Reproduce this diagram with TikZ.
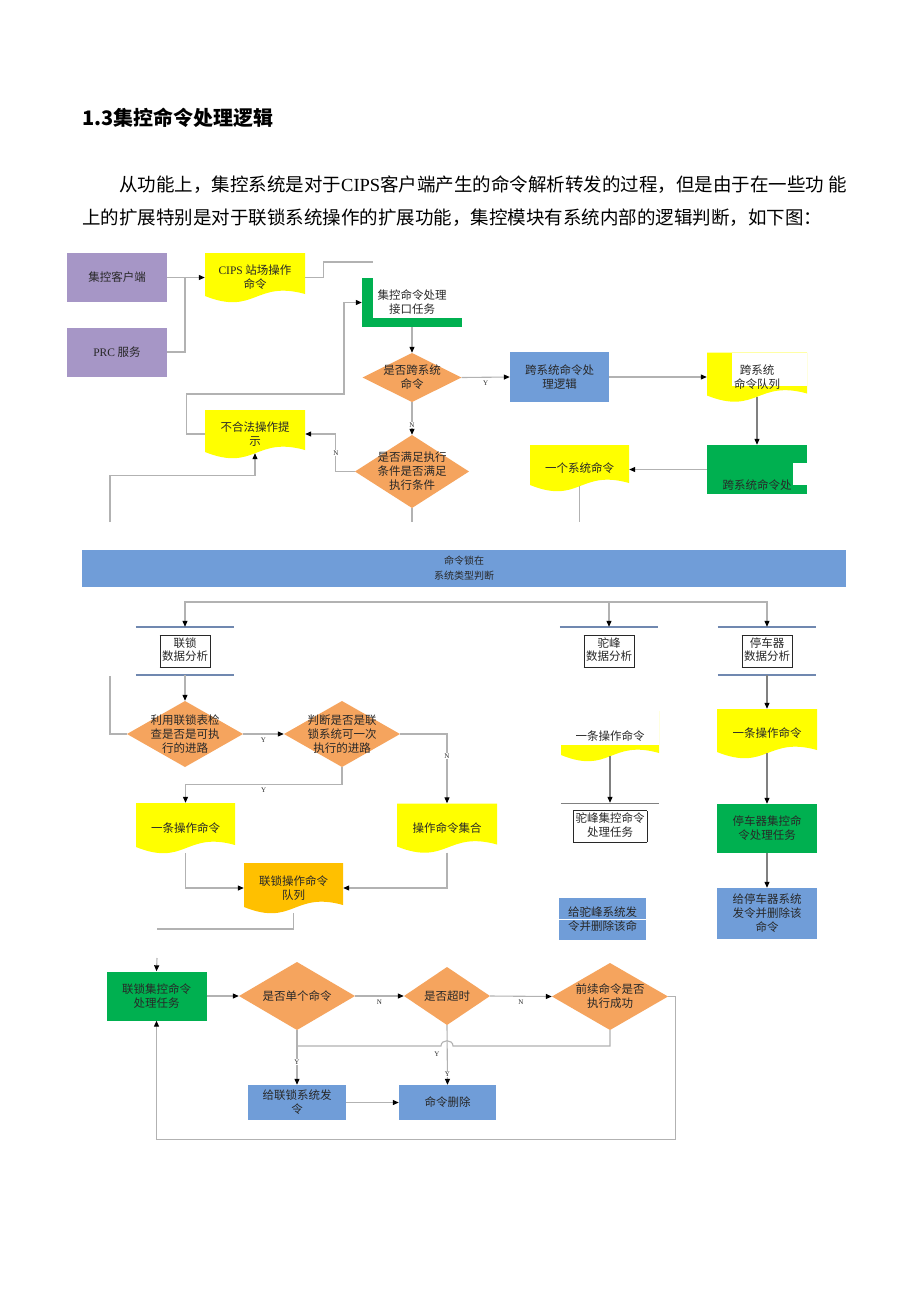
\documentclass[tikz,border=0pt]{standalone}
\usepackage{fontspec}
\setmainfont{Noto Sans CJK SC}
\newfontfamily\latin{Liberation Serif}
\usetikzlibrary{arrows.meta}
\usetikzlibrary{calc}

\definecolor{purplebox}{RGB}{166,150,198}
\definecolor{docyellow}{RGB}{255,255,0}
\definecolor{diaorange}{RGB}{245,164,94}
\definecolor{procblue}{RGB}{112,157,216}
\definecolor{procgreen}{RGB}{0,176,80}
\definecolor{queuegold}{RGB}{255,192,0}
\definecolor{linegray}{RGB}{178,178,178}
\definecolor{bargray}{RGB}{112,136,176}
\definecolor{txt}{RGB}{40,40,40}

\newcommand\dgfont{\fontsize{11.5}{14}\selectfont}
\newcommand\framedtext[1]{{\setlength\fboxsep{2pt}\setlength\fboxrule{0.5pt}%
  \renewcommand\arraystretch{0.95}\fbox{\begin{tabular}{@{}c@{}}#1\end{tabular}}}}

\tikzset{
  basebox/.style={minimum width=100pt, minimum height=49pt, inner sep=1pt,
    align=center, font=\dgfont, text=txt},
  proc/.style={basebox, fill=#1},
  doc/.style={basebox, path picture={
      \fill [#1] (path picture bounding box.north west) -- (path picture bounding box.north east)
        -- ($(path picture bounding box.south east)+(0pt,8pt)$)
        .. controls ($(path picture bounding box.south)+(0pt,22pt)$) and ($(path picture bounding box.south)+(0pt,-14pt)$)
        .. ($(path picture bounding box.south west)+(0pt,6pt)$) -- cycle;}},
  maskdoc/.style 2 args={basebox, path picture={
      \fill [docyellow] (path picture bounding box.north west) -- (path picture bounding box.north east)
        -- ($(path picture bounding box.south east)+(0pt,8pt)$)
        .. controls ($(path picture bounding box.south)+(0pt,22pt)$) and ($(path picture bounding box.south)+(0pt,-14pt)$)
        .. ($(path picture bounding box.south west)+(0pt,6pt)$) -- cycle;
      \fill [white] ($(path picture bounding box.north west)+(#1,0pt)$) rectangle ($(path picture bounding box.south east)+(0pt,#2)$);}},
  lbox/.style={basebox, path picture={
      \fill [procgreen] (path picture bounding box.north west) rectangle ($(path picture bounding box.south west)+(11pt,0pt)$);
      \fill [procgreen] ($(path picture bounding box.south west)+(0pt,9pt)$) rectangle (path picture bounding box.south east);}},
  notch/.style={basebox, path picture={
      \fill [procgreen] (path picture bounding box.north west) rectangle (path picture bounding box.south east);
      \fill [white] ($(path picture bounding box.north east)+(-14pt,-18pt)$) rectangle ($(path picture bounding box.south east)+(0pt,9pt)$);}},
  dia/.style={minimum width=116pt, minimum height=66pt, inner sep=0pt, align=center,
    font=\dgfont, text=txt, path picture={
      \fill [diaorange] (path picture bounding box.north) -- (path picture bounding box.east)
        -- (path picture bounding box.south) -- (path picture bounding box.west) -- cycle;}},
  datanode/.style={minimum width=98pt, minimum height=48pt, inner sep=0pt, font=\dgfont, text=txt},
  dbar/.style={draw=bargray, line width=2.2pt},
  conn/.style={draw=linegray, line width=1.1pt},
  yn/.style={font=\latin\fontsize{7}{8}\selectfont, text=txt, inner sep=0.5pt}
}

\begin{document}
\begin{tikzpicture}[x=1pt, y=-1pt, >={Triangle[length=6pt, width=5pt, color=black]}]
      \fill [white] (0, 0) rectangle (920, 1302);
      \useasboundingbox (0, 0) rectangle (920, 1302);

      % heading and text
      \node [anchor=west, inner sep=0pt, font=\fontsize{20}{24}\selectfont\bfseries] (title) at (82, 118) {1.3集控命令处理逻辑};
      \node [anchor=west, inner sep=0pt, font=\fontsize{18.5}{22}\selectfont] (para1) at (119, 185)
        {从功能上，集控系统是对于{\latin CIPS}客户端产生的命令解析转发的过程，但是由于在一些功\ 能};
      \node [anchor=west, inner sep=0pt, font=\fontsize{18.5}{22}\selectfont] (para2) at (82, 218)
        {上的扩展特别是对于联锁系统操作的扩展功能，集控模块有系统内部的逻辑判断，如下图：};

      % upper part
      \node [proc=purplebox] (client) at (117, 277.5) {集控客户端};
      \node [proc=purplebox] (prc) at (117, 352) {{\latin PRC} 服务};
      \node [doc=docyellow] (cips) at (255, 277.5) {{\latin CIPS} 站场操作\\命令};
      \node [lbox] (iface) at (412, 302.5) {集控命令处理\\接口任务};
      \node [dia, minimum width=99pt, minimum height=49pt] (cross) at (412, 377.5) {是否跨系统\\命令};
      \node [proc=procblue, minimum width=99pt, minimum height=50pt] (xlogic) at (559.5, 377) {跨系统命令处\\理逻辑};
      \node [maskdoc={25pt}{16pt}] (xqueue) at (757, 377) {跨系统\\命令队列};
      \node [notch, text height=40pt] (xproc) at (757, 469.5) {跨系统命令处};
      \node [doc=docyellow, minimum width=99pt, minimum height=46pt] (onesys) at (579.5, 468) {一个系统命令};
      \node [dia, minimum width=114pt, minimum height=73pt] (cond) at (412, 471.5) {是否满足执行\\条件是否满足\\执行条件};
      \node [doc=docyellow, minimum height=48pt] (illegal) at (255, 434) {不合法操作提\\示};

      \coordinate (join) at (185, 277.5);
      \coordinate (cipsend) at (373, 262);
      \coordinate (bend) at (344, 394);
      \coordinate (illend) at (110, 522);
      \coordinate (condend) at (412, 522);
      \coordinate (onesysend) at (579.5, 522);

      \draw [conn, ->] (client.east) -- (cips.west);
      \draw [conn] (prc.east) -| (join);
      \draw [conn] (cips.east) -- ++(18, 0) |- (cipsend);
      \draw [conn, ->] (illegal.west) -- ++(-18, 0) |- (bend) |- (iface.west);
      \draw [conn, ->] (iface.south) -- (cross.north);
      \draw [conn, ->] (cross.east) -- (xlogic.west) node [yn, midway, below=3pt] {Y};
      \draw [conn, ->] (xlogic.east) -- (xqueue.west);
      \draw [conn, ->] (cross.south) -- (cond.north) node [yn, pos=0.7, fill=white] {N};
      \draw [conn, ->] (cond.west) -- ++(-19, 0) |- (illegal.east) node [yn, pos=0.25, fill=white] {N};
      \draw [conn, ->] (illend) |- ([yshift=-17pt]illegal.south) -- ([yshift=5pt]illegal.south);
      \draw [conn] (cond.south) -- (condend);
      \draw [conn, ->, draw=gray] ([yshift=5pt]xqueue.south) -- (xproc.north);
      \draw [conn, ->] (xproc.west) -- (xproc.west -| onesys.east);
      \draw [conn] ([yshift=5pt]onesys.south) -- (onesysend);

      % system type
      \node [proc=procblue, minimum width=764pt, minimum height=37pt, font=\fontsize{10}{15}\selectfont] (typejudge) at (464, 568.5) {命令锁在\\系统类型判断};
      \coordinate (fork) at (411, 602);
      \node [datanode] (ilk) at (185, 651) {\framedtext{联锁\\数据分析}};
      \node [datanode] (hmp) at (609, 651) {\framedtext{驼峰\\数据分析}};
      \node [datanode] (stp) at (767, 651) {\framedtext{停车器\\数据分析}};
      \draw [dbar] (ilk.north west) -- (ilk.north east);
      \draw [dbar] (ilk.south west) -- (ilk.south east);
      \draw [dbar] (hmp.north west) -- (hmp.north east);
      \draw [dbar] (stp.north west) -- (stp.north east);
      \draw [dbar] (stp.south west) -- (stp.south east);
      \draw [conn, ->] (fork) -| (ilk.north);
      \draw [conn, ->] (fork) -| (hmp.north);
      \draw [conn, ->] (fork) -| (stp.north);

      % interlocking
      \node [dia] (ilkchk) at (185, 734) {利用联锁表检\\查是否是可执\\行的进路};
      \node [dia] (once) at (342, 734) {判断是否是联\\锁系统可一次\\执行的进路};
      \node [doc=docyellow, minimum width=99pt, minimum height=50pt] (single) at (185.5, 828) {一条操作命令};
      \node [doc=docyellow] (opset) at (447, 828) {操作命令集合};
      \node [doc=queuegold, minimum width=99pt, minimum height=50pt] (ilkqueue) at (293.5, 888) {联锁操作命令\\队列};
      \coordinate (ilkleft) at (110, 676);
      \coordinate (qend) at (157, 929);

      \draw [conn, ->] (ilk.south) -- (ilkchk.north);
      \draw [conn] (ilkleft) |- (ilkchk.west);
      \draw [conn, ->] (ilkchk.east) -- (once.west) node [yn, midway, below=3pt] {Y};
      \draw [conn, ->] (once.east) -| (opset.north) node [yn, pos=0.66, fill=white] {N};
      \draw [conn, ->] (once.south) -- ++(0, 17) -| (single.north) node [yn, pos=0.25, below=3pt] {Y};
      \draw [conn, ->] (single.south) |- (ilkqueue.west);
      \draw [conn, ->] (opset.south) |- (ilkqueue.east);
      \draw [conn] (ilkqueue.south) |- (qend);

      % hump
      \node [maskdoc={0pt}{16pt}, minimum width=98pt, minimum height=50pt] (hmpcmd) at (610, 736) {一条操作命令};
      \node [datanode, minimum height=47pt] (hmptask) at (610, 826.5) {\framedtext{驼峰集控命令\\处理任务}};
      \node [proc=procblue, minimum width=87pt, minimum height=42pt] (hmpsend) at (602.5, 919) {给驼峰系统发\\令并删除该命};
      \draw [white, line width=0.8pt] (hmpsend.west) -- (hmpsend.east);
      \draw [draw=gray, line width=0.6pt] (hmptask.north west) -- (hmptask.north east);
      \draw [conn, ->, draw=gray] ([yshift=5pt]hmpcmd.south) -- (hmptask.north);

      % car retarder
      \node [doc=docyellow] (stpcmd) at (767, 733.5) {一条操作命令};
      \node [proc=procgreen] (stptask) at (767, 828.5) {停车器集控命\\令处理任务};
      \node [proc=procblue, minimum height=51pt] (stpsend) at (767, 913.5) {给停车器系统\\发令并删除该\\命令};
      \draw [conn, ->, draw=gray] (stp.south) -- (stpcmd.north);
      \draw [conn, ->, draw=gray] ([yshift=5pt]stpcmd.south) -- (stptask.north);
      \draw [conn, ->, draw=gray] (stptask.south) -- (stpsend.north);

      % interlocking task loop
      \node [proc=procgreen] (ilktask) at (156.5, 996) {联锁集控命令\\处理任务};
      \node [dia, minimum height=68pt] (isone) at (297, 996) {是否单个命令};
      \node [dia, minimum width=86pt, minimum height=58pt] (timeout) at (447, 996) {是否超时};
      \node [dia, minimum height=67pt] (prevok) at (610, 996.5) {前续命令是否\\执行成功};
      \node [proc=procblue, minimum width=98pt, minimum height=35pt] (sendilk) at (297, 1102.5) {给联锁系统发\\令};
      \node [proc=procblue, minimum width=97pt, minimum height=35pt] (delcmd) at (447.5, 1102.5) {命令删除};
      \coordinate (qin) at (157, 958);
      \coordinate (hopr) at (453, 1046);
      \coordinate (hopl) at (441, 1046);

      \draw [conn, ->] (qin) -- (ilktask.north);
      \draw [conn, ->] (ilktask.east) -- (isone.west);
      \draw [conn, ->] (isone.east) -- (timeout.west) node [yn, midway, below=3pt] {N};
      \draw [conn, ->] (timeout.east) -- (prevok.west) node [yn, midway, below=3pt] {N};
      \draw [conn, ->] (prevok.east) -- ++(7, 0) |- ([yshift=-119pt]ilktask.south) -- (ilktask.south);
      \draw [conn, ->] (isone.south) -- (sendilk.north) node [yn, pos=0.58, fill=white] {Y};
      \draw [conn, ->] (timeout.south) -- (delcmd.north) node [yn, pos=0.83, fill=white] {Y};
      \draw [conn] (prevok.south) |- (hopr) .. controls (453, 1039) and (441, 1039) .. (hopl) -- (isone.south |- hopl);
      \node [yn] (hopy) at (437, 1054) {Y};
      \draw [conn, ->] (sendilk.east) -- (delcmd.west);

    \end{tikzpicture}
\end{document}
